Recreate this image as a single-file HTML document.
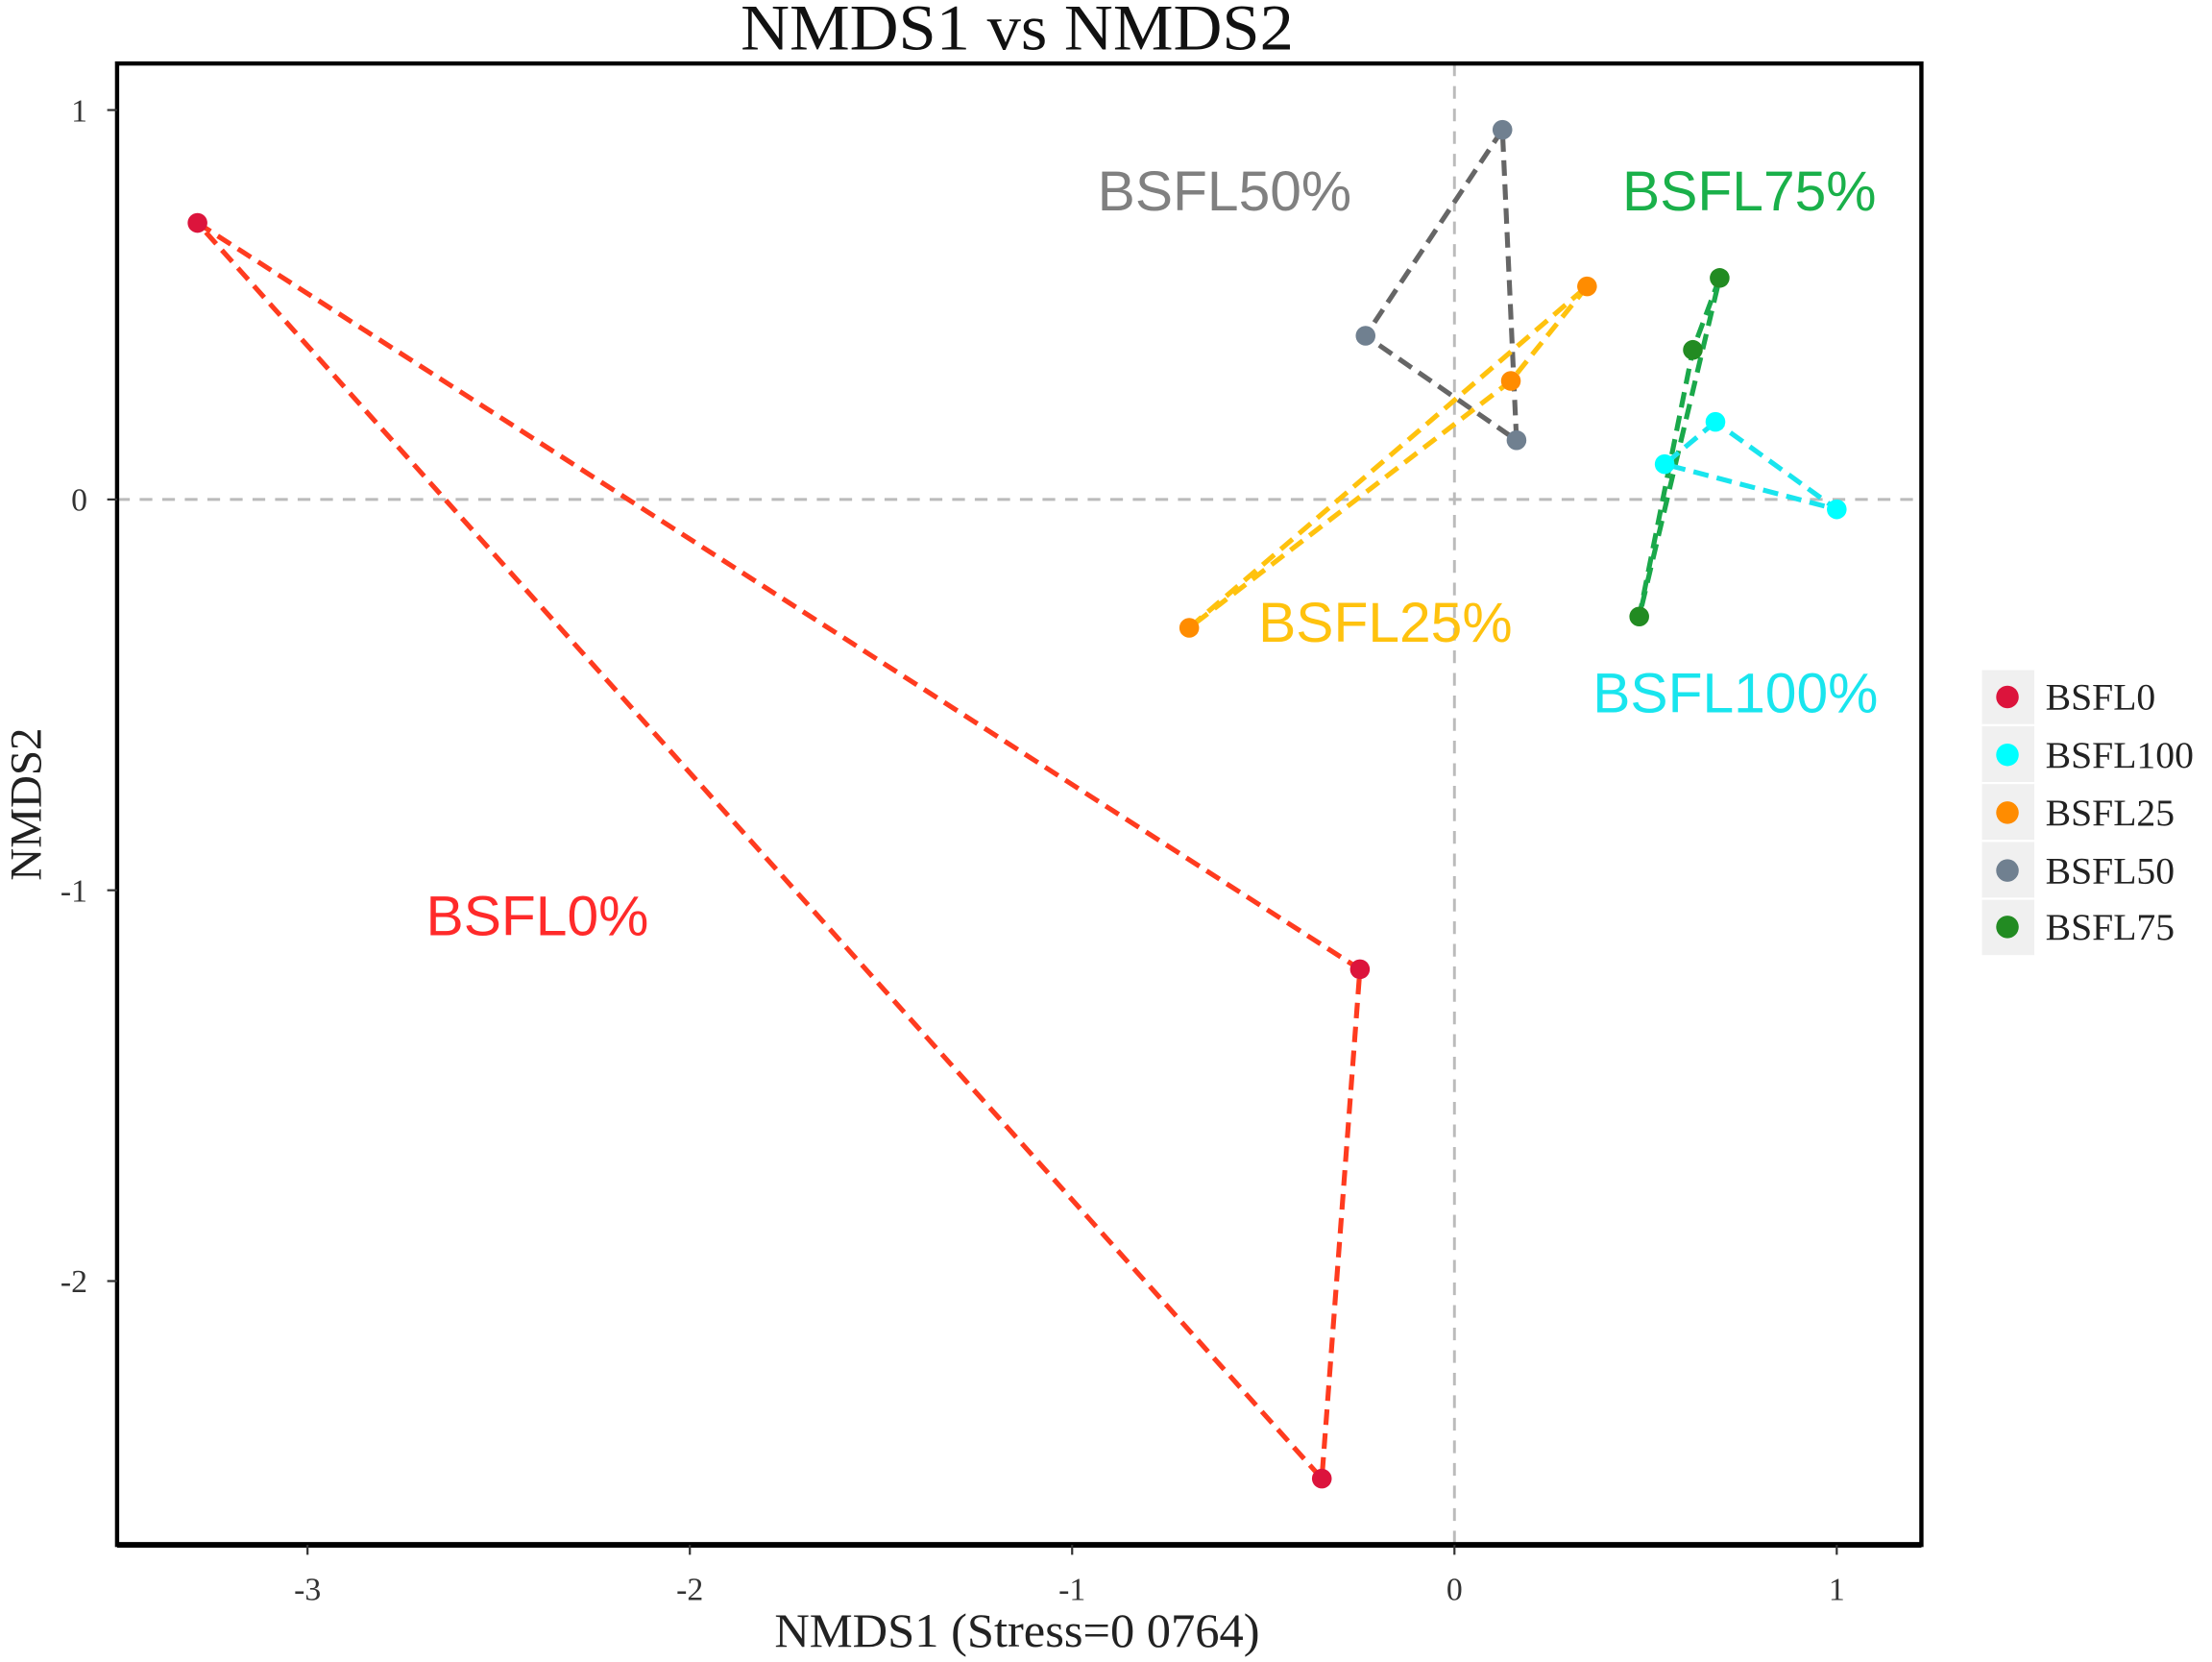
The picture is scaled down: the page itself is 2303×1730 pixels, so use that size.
<!DOCTYPE html>
<html><head><meta charset="utf-8"><style>
html,body{margin:0;padding:0;background:#fff;}
svg{display:block;}
</style></head><body>
<svg width="2303" height="1730" viewBox="0 0 1568 1178" preserveAspectRatio="none" xmlns="http://www.w3.org/2000/svg">
<rect x="0" y="0" width="1568" height="1178" fill="#fff"/>
<text x="721" y="35" font-family="Liberation Serif, serif" font-size="46" text-anchor="middle" fill="#111" transform="translate(721,0) scale(1,1.0) translate(-721,0)" textLength="392" lengthAdjust="spacingAndGlyphs">NMDS1 vs NMDS2</text>
<line x1="83" y1="354" x2="1362" y2="354" stroke="#bbb" stroke-width="2" stroke-dasharray="9,7"/>
<line x1="1031" y1="45" x2="1031" y2="1095" stroke="#bbb" stroke-width="2" stroke-dasharray="9,7"/>
<rect x="83" y="45" width="1279" height="1050" fill="none" stroke="#000" stroke-width="3"/>
<line x1="83" y1="1095" x2="1362" y2="1095" stroke="#000" stroke-width="4"/>
<g stroke="#333" stroke-width="1.5">
<line x1="218" y1="1095" x2="218" y2="1102"/><line x1="489" y1="1095" x2="489" y2="1102"/><line x1="760" y1="1095" x2="760" y2="1102"/><line x1="1031" y1="1095" x2="1031" y2="1102"/><line x1="1302" y1="1095" x2="1302" y2="1102"/>
<line x1="76" y1="78" x2="83" y2="78"/><line x1="76" y1="354" x2="83" y2="354"/><line x1="76" y1="631" x2="83" y2="631"/><line x1="76" y1="908" x2="83" y2="908"/>
</g>
<g font-family="Liberation Serif, serif" font-size="23" fill="#333" text-anchor="middle">
<text x="218" y="1134">-3</text><text x="489" y="1134">-2</text><text x="760" y="1134">-1</text><text x="1031" y="1134">0</text><text x="1302" y="1134">1</text>
</g>
<g font-family="Liberation Serif, serif" font-size="23" fill="#333" text-anchor="end">
<text x="62" y="86">1</text><text x="62" y="362">0</text><text x="62" y="639">-1</text><text x="62" y="916">-2</text>
</g>
<text x="721" y="1167" font-family="Liberation Serif, serif" font-size="34" text-anchor="middle" fill="#222" textLength="344" lengthAdjust="spacingAndGlyphs">NMDS1 (Stress=0 0764)</text>
<text transform="translate(29,570) rotate(-90)" font-family="Liberation Serif, serif" font-size="32" text-anchor="middle" fill="#222">NMDS2</text>
<g fill="none" stroke-width="3.5" stroke-dasharray="11,6">
<polygon points="140,158 964,687 937,1048" stroke="#ff3b1f"/>
<polygon points="1065,92 968,238 1075,312" stroke="#666"/>
<polygon points="1125,203 1071,270 843,445" stroke="#ffc20e"/>
<polygon points="1219,197 1200,248 1162,437" stroke="#1aa84a"/>
<polygon points="1216,299 1180,329 1302,361" stroke="#19e5ee"/>
</g>
<g>
<circle cx="140" cy="158" r="7" fill="#dc143c"/><circle cx="964" cy="687" r="7" fill="#dc143c"/><circle cx="937" cy="1048" r="7" fill="#dc143c"/>
<circle cx="1065" cy="92" r="7" fill="#708090"/><circle cx="968" cy="238" r="7" fill="#708090"/><circle cx="1075" cy="312" r="7" fill="#708090"/>
<circle cx="1125" cy="203" r="7" fill="#ff8c00"/><circle cx="1071" cy="270" r="7" fill="#ff8c00"/><circle cx="843" cy="445" r="7" fill="#ff8c00"/>
<circle cx="1219" cy="197" r="7" fill="#228b22"/><circle cx="1200" cy="248" r="7" fill="#228b22"/><circle cx="1162" cy="437" r="7" fill="#228b22"/>
<circle cx="1216" cy="299" r="7" fill="#00ffff"/><circle cx="1180" cy="329" r="7" fill="#00ffff"/><circle cx="1302" cy="361" r="7" fill="#00ffff"/>
</g>
<g font-family="Liberation Sans, sans-serif" font-size="40">
<text x="778" y="149" fill="#808080">BSFL50%</text>
<text x="1150" y="149" fill="#1ab04a">BSFL75%</text>
<text x="892" y="455" fill="#ffc20e">BSFL25%</text>
<text x="1129" y="505" fill="#19e5ee">BSFL100%</text>
<text x="302" y="663" fill="#ff2a2a">BSFL0%</text>
</g>
<rect x="1405" y="475" width="37" height="202" fill="#f0f0f0"/>
<g stroke="#fff" stroke-width="1.5"><line x1="1405" y1="514" x2="1442" y2="514"/><line x1="1405" y1="555" x2="1442" y2="555"/><line x1="1405" y1="596" x2="1442" y2="596"/><line x1="1405" y1="637" x2="1442" y2="637"/></g>
<circle cx="1423" cy="494" r="8" fill="#dc143c"/>
<circle cx="1423" cy="535" r="8" fill="#00ffff"/>
<circle cx="1423" cy="576" r="8" fill="#ff8c00"/>
<circle cx="1423" cy="617" r="8" fill="#708090"/>
<circle cx="1423" cy="657" r="8" fill="#228b22"/>
<g font-family="Liberation Serif, serif" font-size="27" fill="#222">
<text x="1450" y="503">BSFL0</text>
<text x="1450" y="544">BSFL100</text>
<text x="1450" y="585">BSFL25</text>
<text x="1450" y="626">BSFL50</text>
<text x="1450" y="666">BSFL75</text>
</g>
</svg>
</body></html>
